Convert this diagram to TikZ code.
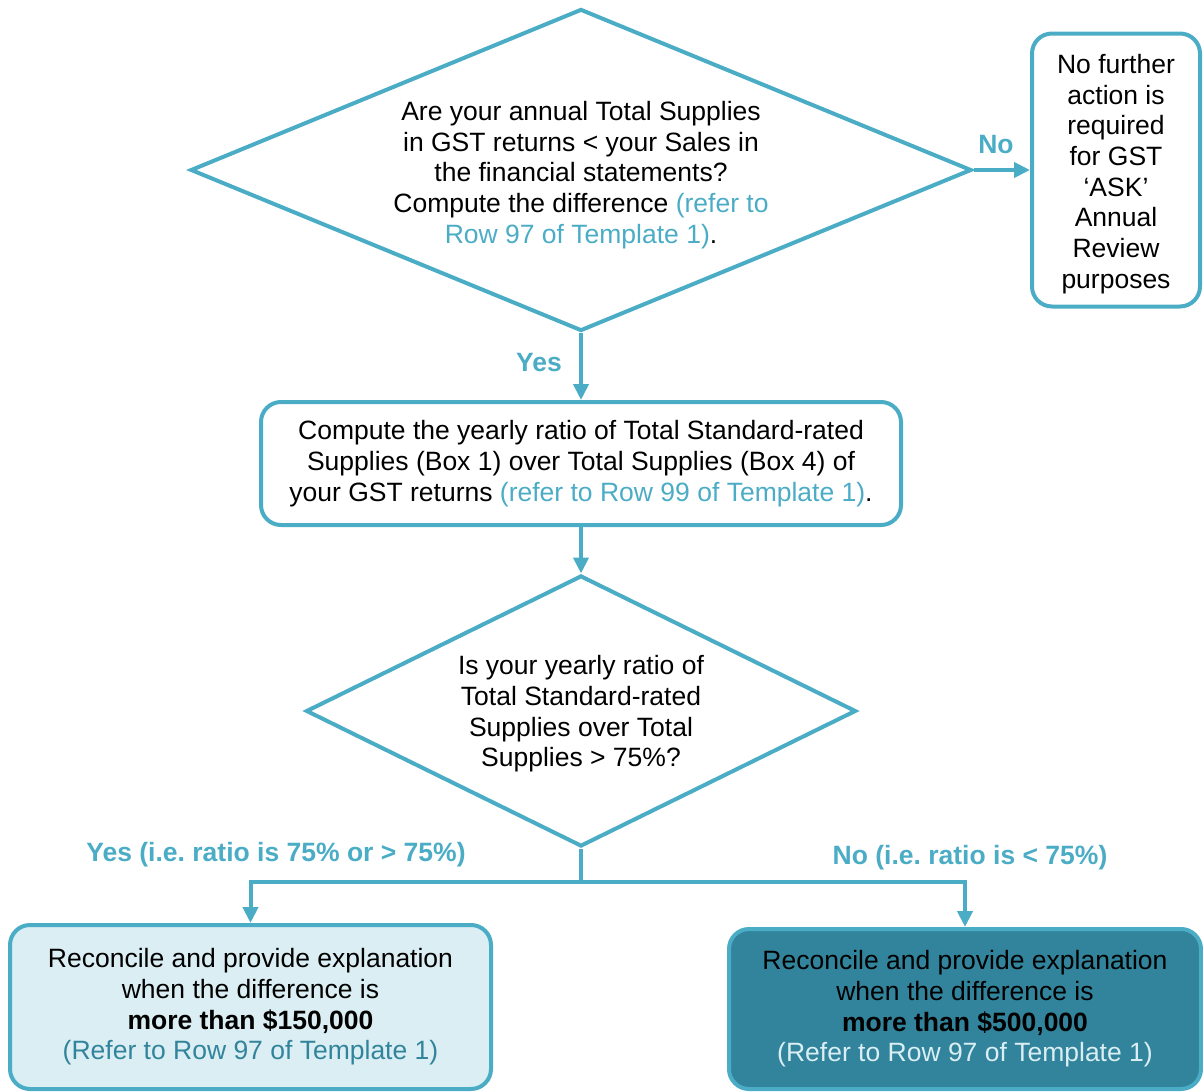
\documentclass[tikz,border=0pt]{standalone}
\usepackage{fontspec}
\setmainfont{Liberation Sans}
\usetikzlibrary{shapes.geometric,arrows.meta}
\definecolor{acc}{HTML}{4BACC6}
\definecolor{lightfill}{HTML}{DAEEF3}
\definecolor{darkfill}{HTML}{31849B}
\frenchspacing
\tikzset{
  base/.style={font=\fontsize{26.5}{30.7}\selectfont, align=center, inner sep=0pt},
  dia/.style={base, draw=acc, line width=4pt, diamond},
  rbox/.style={base, draw=acc, line width=4pt, rounded corners=20pt},
  conn/.style={draw=acc, line width=4pt},
  arr/.style={conn, -{Triangle[length=16pt,width=15pt]}},
  lbl/.style={font=\fontsize{26.5}{30.7}\selectfont\bfseries, text=acc, inner sep=0pt}
}
\begin{document}
\begin{tikzpicture}[x=1pt,y=-1pt]
\useasboundingbox (0,0) rectangle (1203,1092);
\node[dia, aspect=2.425, minimum width=781pt, minimum height=322pt] (d1) at (581,170) {};
\node[base] (d1t) at (581,175)
  {Are your annual Total Supplies\\ in GST returns < your Sales in\\ the financial statements?\\ Compute the difference \textcolor{acc}{(refer to}\\ \textcolor{acc}{Row 97 of Template 1)}.};
\node[rbox, minimum width=168pt, minimum height=273pt] (nf) at (1116,170) {};
\node[base] (nft) at (1116,174)
  {No further\\ action is\\ required\\ for GST\\ ‘ASK’\\ Annual\\ Review\\ purposes};
\node[rbox, minimum width=640pt, minimum height=123pt] (b2) at (581,463.5)
  {Compute the yearly ratio of Total Standard-rated\\ Supplies (Box 1) over Total Supplies (Box 4) of\\ your GST returns \textcolor{acc}{(refer to Row 99 of Template 1)}.};
\node[dia, aspect=2.03, minimum width=550pt, minimum height=271pt] (d2) at (581,711) {};
\node[base] (d2t) at (581,714)
  {Is your yearly ratio of\\ Total Standard-rated\\ Supplies over Total\\ Supplies > 75\%?};
\node[rbox, fill=lightfill, minimum width=481pt, minimum height=164pt] (lb) at (250.5,1007)
  {Reconcile and provide explanation\\ when the difference is\\ \textbf{more than \$150,000}\\ \textcolor{darkfill}{(Refer to Row 97 of Template 1)}};
\node[rbox, fill=darkfill, minimum width=472pt, minimum height=160pt] (rb) at (965,1009)
  {Reconcile and provide explanation\\ when the difference is\\ \textbf{more than \$500,000}\\ \textcolor{lightfill}{(Refer to Row 97 of Template 1)}};
\coordinate (j) at (581,882);
\draw[arr] (d1.east) -- (nf.west);
\draw[arr] (d1.south) -- (b2.north);
\draw[arr] (b2.south) -- (d2.north);
\draw[conn] (d2.south) -- (j);
\draw[arr] (j) -| (lb.north);
\draw[arr] (j) -| (rb.north);
\node[lbl] (lno) at (996,145) {No};
\node[lbl] (lyes) at (539,363) {Yes};
\node[lbl] (lyes2) at (276,855) {Yes (i.e. ratio is 75\% or > 75\%)};
\node[lbl] (lno2) at (970,858) {No (i.e. ratio is < 75\%)};
\end{tikzpicture}
\end{document}
